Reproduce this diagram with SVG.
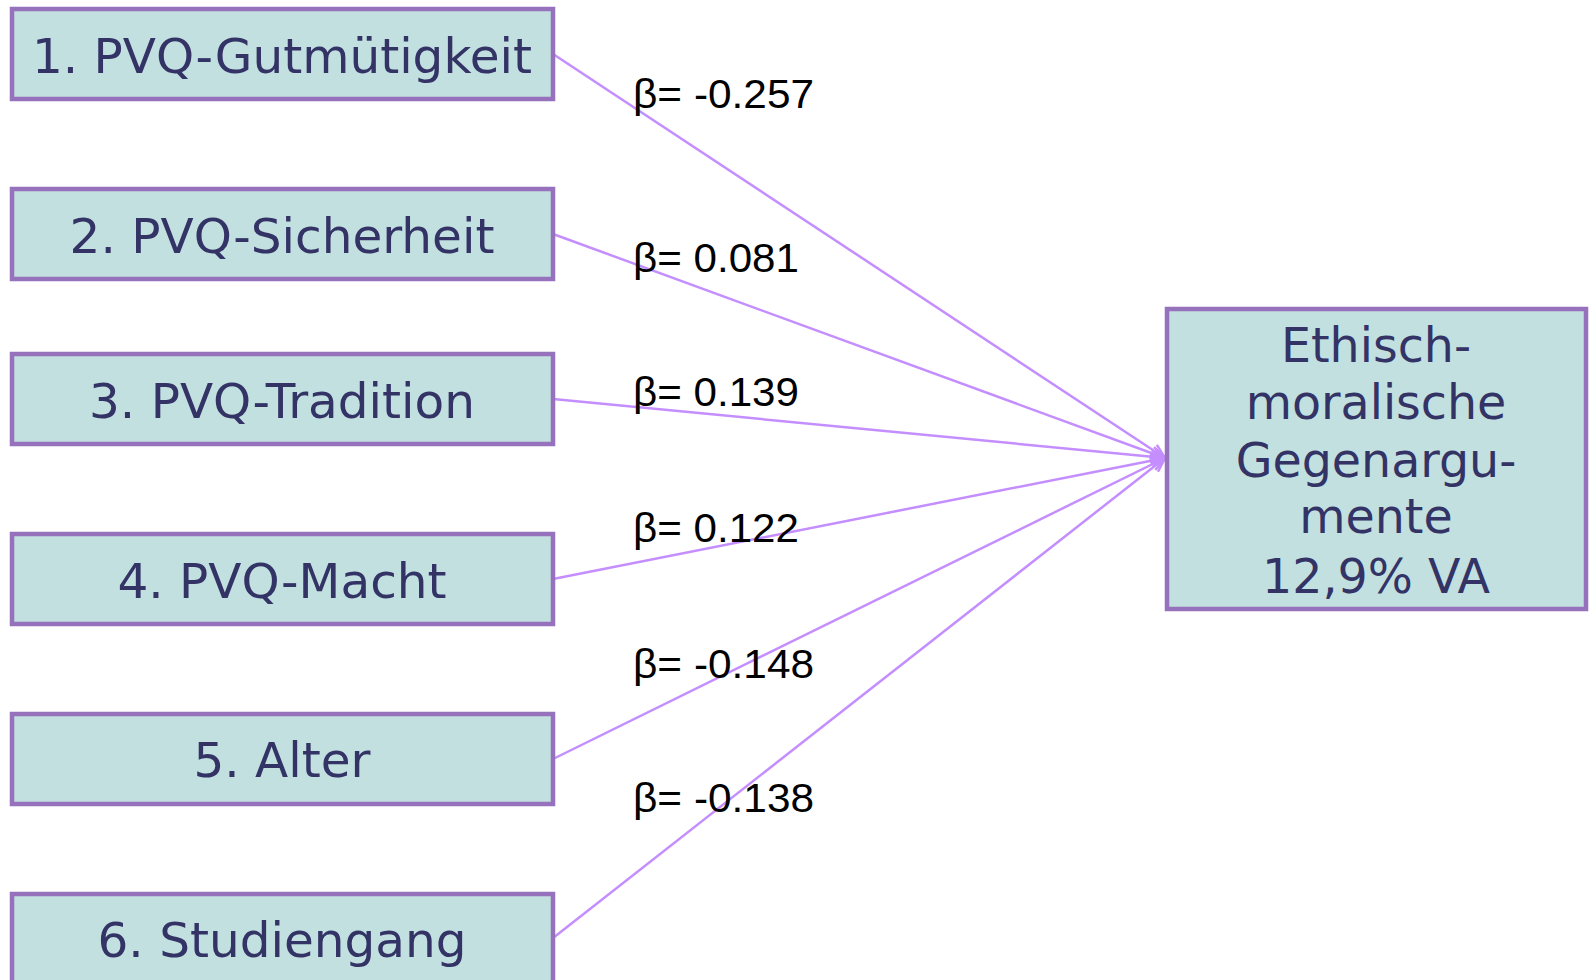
<svg xmlns="http://www.w3.org/2000/svg" width="1593" height="980" viewBox="0 0 1593 980">
<defs>
<style>
.box{fill:#C2E0E0;stroke:#9672BC;stroke-width:4.5}
.bt{font-family:"DejaVu Sans",Verdana,sans-serif;font-size:48.5px;fill:#333366;text-anchor:middle}
.bt2{font-family:"DejaVu Sans",Verdana,sans-serif;font-size:47.5px;fill:#333366;text-anchor:middle}
.lbl{font-family:"Liberation Sans",Arial,sans-serif;font-size:41px;fill:#000}
.con{stroke:#C48EFF;stroke-width:2.5;fill:none;marker-end:url(#arr)}
</style>
<marker id="arr" viewBox="0 0 16 16" refX="15" refY="8" markerWidth="16" markerHeight="16" markerUnits="userSpaceOnUse" orient="auto">
<polyline points="1,1.5 15,8 1,14.5" fill="none" stroke="#C48EFF" stroke-width="2.5"/>
</marker>
</defs>
<rect width="1593" height="980" fill="#fff"/>
<g id="connectors">
<line class="con" x1="553" y1="54" x2="1165" y2="458"/>
<line class="con" x1="553" y1="234" x2="1165" y2="458"/>
<line class="con" x1="553" y1="399" x2="1165" y2="458"/>
<line class="con" x1="553" y1="579" x2="1165" y2="458"/>
<line class="con" x1="553" y1="759" x2="1165" y2="458"/>
<line class="con" x1="553" y1="938" x2="1165" y2="458"/>
</g>
<g id="labels">
<text class="lbl" x="633" y="108" textLength="181" lengthAdjust="spacingAndGlyphs">β= -0.257</text>
<text class="lbl" x="633" y="272" textLength="166" lengthAdjust="spacingAndGlyphs">β= 0.081</text>
<text class="lbl" x="633" y="406" textLength="166" lengthAdjust="spacingAndGlyphs">β= 0.139</text>
<text class="lbl" x="633" y="542" textLength="166" lengthAdjust="spacingAndGlyphs">β= 0.122</text>
<text class="lbl" x="633" y="678" textLength="181" lengthAdjust="spacingAndGlyphs">β= -0.148</text>
<text class="lbl" x="633" y="812" textLength="181" lengthAdjust="spacingAndGlyphs">β= -0.138</text>
</g>
<g id="n1"><rect class="box" x="12" y="9" width="541" height="90"/><text class="bt" x="282" y="73">1. PVQ-Gutmütigkeit</text></g>
<g id="n2"><rect class="box" x="12" y="189" width="541" height="90"/><text class="bt" x="282" y="253">2. PVQ-Sicherheit</text></g>
<g id="n3"><rect class="box" x="12" y="354" width="541" height="90"/><text class="bt" x="282" y="418">3. PVQ-Tradition</text></g>
<g id="n4"><rect class="box" x="12" y="534" width="541" height="90"/><text class="bt" x="282" y="598">4. PVQ-Macht</text></g>
<g id="n5"><rect class="box" x="12" y="714" width="541" height="90"/><text class="bt" x="282" y="777">5. Alter</text></g>
<g id="n6"><rect class="box" x="12" y="894" width="541" height="100"/><text class="bt" x="282" y="957">6. Studiengang</text></g>
<g id="target"><rect class="box" x="1167" y="309" width="419" height="300"/>
<text class="bt2" x="1376" y="362">Ethisch-</text>
<text class="bt2" x="1376" y="419">moralische</text>
<text class="bt2" x="1376" y="477">Gegenargu-</text>
<text class="bt2" x="1376" y="533">mente</text>
<text class="bt2" x="1376" y="593">12,9% VA</text>
</g>
</svg>
